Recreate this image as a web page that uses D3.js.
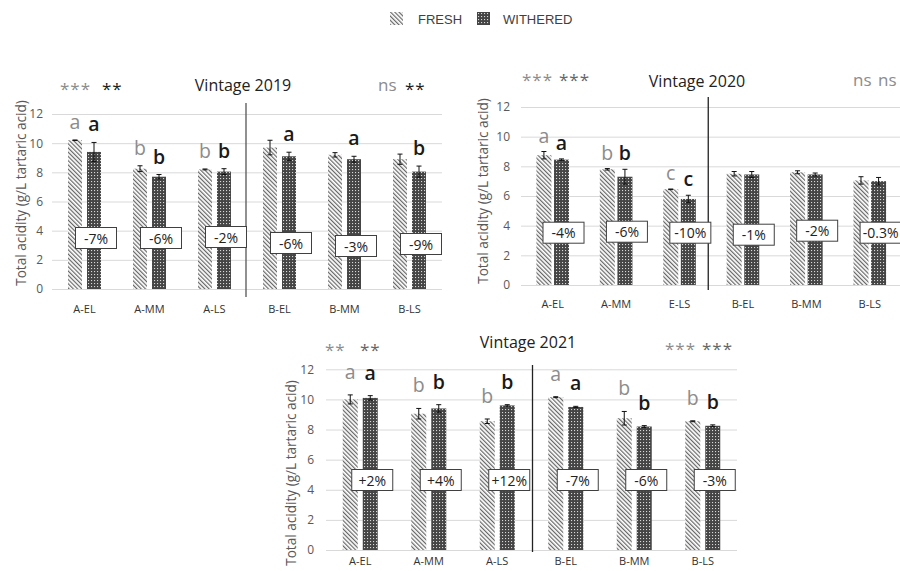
<!DOCTYPE html>
<html><head><meta charset="utf-8">
<script src="https://cdn.jsdelivr.net/npm/d3@7"></script>
<style>body{margin:0;background:#fff}svg{display:block}</style>
</head><body>
<script>
// ---------------- DATA ----------------
const seriesNames = ["FRESH", "WITHERED"];
const yTickValues = [0, 2, 4, 6, 8, 10, 12];

const categories2019 = ["A-EL", "A-MM", "A-LS", "B-EL", "B-MM", "B-LS"];
const fresh2019 = [10.2, 8.25, 8.2, 9.7, 9.2, 8.9];
const freshErr2019 = [0.02, 0.2, 0.03, 0.5, 0.15, 0.35];
const withered2019 = [9.4, 7.7, 8.05, 9.1, 8.9, 8.05];
const witheredErr2019 = [0.65, 0.15, 0.2, 0.28, 0.2, 0.38];
const freshLetters2019 = ["a", "b", "b", "", "", ""];
const witheredLetters2019 = ["a", "b", "b", "a", "a", "b"];
const change2019 = ["-7%", "-6%", "-2%", "-6%", "-3%", "-9%"];
const sigA2019 = ["***", "**"];
const sigB2019 = ["ns", "**"];

const categories2020 = ["A-EL", "A-MM", "E-LS", "B-EL", "B-MM", "B-LS"];
const fresh2020 = [8.75, 7.8, 6.45, 7.5, 7.6, 7.05];
const freshErr2020 = [0.25, 0.05, 0.02, 0.15, 0.1, 0.25];
const withered2020 = [8.45, 7.3, 5.8, 7.45, 7.45, 7.0];
const witheredErr2020 = [0.05, 0.5, 0.25, 0.2, 0.1, 0.25];
const freshLetters2020 = ["a", "b", "c", "", "", ""];
const witheredLetters2020 = ["a", "b", "c", "", "", ""];
const change2020 = ["-4%", "-6%", "-10%", "-1%", "-2%", "-0.3%"];
const sigA2020 = ["***", "***"];
const sigB2020 = ["ns", "ns"];

const categories2021 = ["A-EL", "A-MM", "A-LS", "B-EL", "B-MM", "B-LS"];
const fresh2021 = [10.0, 9.05, 8.55, 10.15, 8.75, 8.55];
const freshErr2021 = [0.3, 0.35, 0.15, 0.03, 0.45, 0.03];
const withered2021 = [10.1, 9.4, 9.6, 9.5, 8.2, 8.25];
const witheredErr2021 = [0.15, 0.25, 0.05, 0.04, 0.06, 0.06];
const freshLetters2021 = ["a", "b", "b", "a", "b", "b"];
const witheredLetters2021 = ["a", "b", "b", "a", "b", "b"];
const change2021 = ["+2%", "+4%", "+12%", "-7%", "-6%", "-3%"];
const sigA2021 = ["**", "**"];
const sigB2021 = ["***", "***"];

// ---------------- LAYOUT ----------------
const W = 900, H = 571;
const FONT = "'Open Sans', 'DejaVu Sans', sans-serif";
const GREY = "#8c8c8c", DARKG = "#666", BLACK = "#1a1a1a";

const svg = d3.select("body").append("svg").attr("width", W).attr("height", H)
  .style("font-family", FONT);
const defs = svg.append("defs");

const pf = defs.append("pattern").attr("id", "pFresh").attr("patternUnits", "userSpaceOnUse")
  .attr("width", 3).attr("height", 3).attr("patternTransform", "rotate(-45)");
pf.append("rect").attr("width", 3).attr("height", 3).attr("fill", "#fff");
pf.append("rect").attr("width", 1.2).attr("height", 3).attr("fill", "#666");

const pw = defs.append("pattern").attr("id", "pWith").attr("patternUnits", "userSpaceOnUse")
  .attr("width", 3).attr("height", 3);
pw.append("rect").attr("width", 3).attr("height", 3).attr("fill", "#454545");
pw.append("rect").attr("x", 1).attr("y", 1).attr("width", 1.1).attr("height", 1.1).attr("fill", "#d8d8d8");

// Legend
const legend = svg.append("g").style("font-family", "'Liberation Sans', Arial, sans-serif");
const legendItems = [
  {name: seriesNames[0], fill: "url(#pFresh)", sx: 390, tx: 418},
  {name: seriesNames[1], fill: "url(#pWith)", sx: 477, tx: 503}
];
legendItems.forEach(d => {
  legend.append("rect").attr("x", d.sx).attr("y", 12).attr("width", 13).attr("height", 13).attr("fill", d.fill);
  legend.append("text").attr("x", d.tx).attr("y", 23.5).attr("font-size", 13).attr("fill", "#404040").text(d.name);
});

function drawPanel(c) {
  const g = svg.append("g");
  const x = d3.scaleBand().domain(c.categories).range([c.left, c.right]);
  const y = d3.scaleLinear().domain([0, 12]).range([c.y0, c.y12]);
  const bw = x.bandwidth();

  const ya = g.append("g").attr("transform", `translate(${c.left},0)`)
    .call(d3.axisLeft(y).tickValues(yTickValues).tickSize(-(c.right - c.left)).tickPadding(c.tickPad));
  ya.select(".domain").remove();
  ya.selectAll("line").attr("stroke", "#d9d9d9");
  ya.selectAll("text").attr("fill", "#595959").attr("font-size", 12).attr("font-family", FONT);

  const xa = g.append("g").attr("transform", `translate(0,${c.y0})`)
    .call(d3.axisBottom(x).tickSize(0).tickPadding(c.labelPad));
  xa.select(".domain").remove();
  xa.selectAll("text").attr("fill", "#333").attr("font-size", 11).attr("font-family", FONT);

  g.append("text").attr("transform", `translate(${c.yLabelX},${c.yLabelY}) rotate(-90)`)
    .attr("text-anchor", "middle").attr("dominant-baseline", "central")
    .attr("font-size", 13.6).attr("fill", "#595959").text("Total acidity (g/L tartaric acid)");

  g.append("text").attr("x", c.titleX).attr("y", c.titleY).attr("text-anchor", "middle")
    .attr("font-size", 16).attr("fill", "#222").text(c.title);

  const dvx = x(c.categories[3]) + c.divDx;
  g.append("line").attr("x1", dvx).attr("x2", dvx).attr("y1", c.divY1).attr("y2", c.divY2)
    .attr("stroke", c.divColor).attr("stroke-width", 1.3);

  const rows = c.categories.map((cat, i) => ({
    cat, i, fv: c.fresh[i], fe: c.freshErr[i], wv: c.withered[i], we: c.witheredErr[i],
    fl: c.freshLetters[i], wl: c.witheredLetters[i], ch: c.change[i]
  }));
  const center = d => x(d.cat) + bw / 2;
  const fx = d => center(d) - c.gap / 2 - c.barW;
  const wx = d => center(d) + c.gap / 2;

  const bars = g.append("g");
  bars.selectAll(".f").data(rows).join("rect")
    .attr("x", fx).attr("width", c.barW).attr("y", d => y(d.fv)).attr("height", d => y(0) - y(d.fv))
    .attr("fill", "url(#pFresh)");
  bars.selectAll(".w").data(rows).join("rect")
    .attr("x", wx).attr("width", c.barW).attr("y", d => y(d.wv)).attr("height", d => y(0) - y(d.wv))
    .attr("fill", "url(#pWith)");

  const eb = [];
  rows.forEach(d => {
    eb.push({cx: fx(d) + c.barW / 2, v: d.fv, e: d.fe});
    eb.push({cx: wx(d) + c.barW / 2, v: d.wv, e: d.we});
  });
  const eg = g.append("g").attr("stroke", "#111").attr("stroke-width", 1);
  eb.forEach(d => {
    eg.append("line").attr("x1", d.cx).attr("x2", d.cx).attr("y1", y(d.v - d.e)).attr("y2", y(d.v + d.e));
    eg.append("line").attr("x1", d.cx - 2.5).attr("x2", d.cx + 2.5).attr("y1", y(d.v - d.e)).attr("y2", y(d.v - d.e));
    eg.append("line").attr("x1", d.cx - 2.5).attr("x2", d.cx + 2.5).attr("y1", y(d.v + d.e)).attr("y2", y(d.v + d.e));
  });

  const lg = g.append("g").attr("text-anchor", "middle").attr("font-size", 19.5);
  rows.forEach((d, i) => {
    if (d.fl) lg.append("text").attr("x", fx(d) + c.barW / 2).attr("y", y(d.fv + d.fe) - c.letterGap)
      .attr("fill", GREY).text(d.fl);
    if (d.wl) lg.append("text").attr("x", wx(d) + c.barW / 2).attr("y", y(d.wv + d.we) - c.letterGap)
      .attr("fill", BLACK).attr("font-weight", 600).text(d.wl);
  });

  const bg = g.append("g");
  rows.forEach((d, i) => {
    const cx = wx(d) + c.barW / 2 + 2;
    const cy = c.boxCy + (c.boxDy ? c.boxDy[i] : 0);
    bg.append("rect").attr("x", cx - 20.5).attr("y", cy - 10.5).attr("width", 41).attr("height", 21)
      .attr("fill", "#fff").attr("stroke", "#404040").attr("stroke-width", 1);
    bg.append("text").attr("x", cx).attr("y", cy).attr("text-anchor", "middle")
      .attr("dominant-baseline", "central").attr("font-size", 14).attr("fill", "#222").text(d.ch);
  });

  c.sig.forEach(s => {
    g.append("text").attr("x", s.x).attr("y", s.y).attr("font-size", 17)
      .attr("letter-spacing", s.t.startsWith("*") ? 1 : 0)
      .attr("fill", s.color).text(s.t);
  });
}

drawPanel({
  title: "Vintage 2019", categories: categories2019,
  fresh: fresh2019, freshErr: freshErr2019, withered: withered2019, witheredErr: witheredErr2019,
  freshLetters: freshLetters2019, witheredLetters: witheredLetters2019, change: change2019,
  left: 52, right: 442, y0: 289, y12: 114, barW: 14, gap: 5, tickPad: 9, labelPad: 16,
  yLabelX: 20, yLabelY: 193, titleX: 243, titleY: 91,
  divDx: -1, divY1: 103, divY2: 297, divColor: "#555",
  letterGap: 11, boxCy: 241, boxDy: [-3, -3, -4, 2, 5, 3],
  sig: [
    {t: sigA2019[0], x: 60, y: 95, color: GREY},
    {t: sigA2019[1], x: 102, y: 95, color: BLACK},
    {t: sigB2019[0], x: 378, y: 91, color: GREY},
    {t: sigB2019[1], x: 405, y: 95, color: BLACK}
  ]
});

drawPanel({
  title: "Vintage 2020", categories: categories2020,
  fresh: fresh2020, freshErr: freshErr2020, withered: withered2020, witheredErr: witheredErr2020,
  freshLetters: freshLetters2020, witheredLetters: witheredLetters2020, change: change2020,
  left: 521, right: 901.5, y0: 285, y12: 107, barW: 15, gap: 2.6, tickPad: 11, labelPad: 15,
  yLabelX: 482, yLabelY: 191, titleX: 697, titleY: 87,
  divDx: -3, divY1: 97, divY2: 290, divColor: "#222",
  letterGap: 9, boxCy: 232.7, boxDy: [0, -1, 0, 2, -2, 0],
  sig: [
    {t: sigA2020[0], x: 522, y: 86, color: GREY},
    {t: sigA2020[1], x: 559, y: 86, color: DARKG},
    {t: sigB2020[0], x: 853, y: 86, color: GREY},
    {t: sigB2020[1], x: 878, y: 86, color: GREY}
  ]
});

drawPanel({
  title: "Vintage 2021", categories: categories2021,
  fresh: fresh2021, freshErr: freshErr2021, withered: withered2021, witheredErr: witheredErr2021,
  freshLetters: freshLetters2021, witheredLetters: witheredLetters2021, change: change2021,
  left: 326, right: 737, y0: 550, y12: 369.3, barW: 15, gap: 5, tickPad: 12, labelPad: 7,
  yLabelX: 290, yLabelY: 473, titleX: 528, titleY: 348,
  divDx: 1, divY1: 365, divY2: 552, divColor: "#222",
  letterGap: 16, boxCy: 480,
  sig: [
    {t: sigA2021[0], x: 325, y: 356, color: GREY},
    {t: sigA2021[1], x: 360, y: 356, color: DARKG},
    {t: sigB2021[0], x: 665, y: 355, color: GREY},
    {t: sigB2021[1], x: 702, y: 355, color: DARKG}
  ]
});
</script>
</body></html>
